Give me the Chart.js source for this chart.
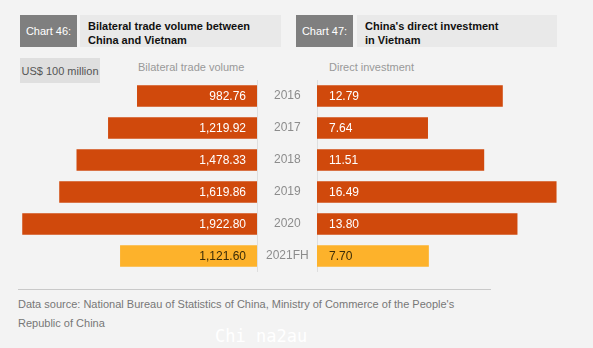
<!DOCTYPE html>
<html>
<head>
<meta charset="utf-8">
<script src="https://cdn.jsdelivr.net/npm/chart.js@4/dist/chart.umd.min.js"></script>
<style>
  html, body { margin: 0; padding: 0; }
  body { width: 593px; height: 348px; background: #f3f3f3; position: relative; overflow: hidden;
         font-family: "Liberation Sans", Arial, Helvetica, sans-serif; }
  .abs { position: absolute; }
  .tag { background: #7f7f7f; color: #fff; font-size: 11px; display: flex; align-items: center; justify-content: center; }
  .ttl { background: #e9e9e9; color: #111; font-weight: bold; font-size: 11px; line-height: 14px; padding: 4px 0 0 8px; box-sizing: border-box; }
  .lbl { color: #999; font-size: 11px; white-space: nowrap; }
  .unit { background: #dfdfdf; color: #555; font-size: 11px; display: flex; align-items: center; justify-content: center; }
  .foot { color: #777; font-size: 11px; line-height: 19px; }
  canvas { position: absolute; }
</style>
</head>
<body>
<div class="abs tag" style="left:20px;top:15px;width:57px;height:32px;">Chart 46:</div>
<div class="abs ttl" style="left:80px;top:15px;width:201px;height:32px;">Bilateral trade volume between<br>China and Vietnam</div>
<div class="abs tag" style="left:296px;top:15px;width:57px;height:32px;">Chart 47:</div>
<div class="abs ttl" style="left:357px;top:15px;width:200px;height:32px;">China's direct investment<br>in Vietnam</div>
<div class="abs unit" style="left:20px;top:58px;width:80px;height:25px;">US$ 100 million</div>
<div class="abs lbl" style="left:138px;top:61px;">Bilateral trade volume</div>
<div class="abs lbl" style="left:329px;top:61px;">Direct investment</div>

<div style="position:absolute;left:0;top:80px;width:317px;height:192px;"><canvas id="left"></canvas></div>
<div style="position:absolute;left:317px;top:80px;width:276px;height:192px;"><canvas id="right"></canvas></div>

<div class="abs" style="left:18px;top:289px;width:473px;height:0;border-top:1px solid #c9c9c9;"></div>
<div class="abs foot" style="left:18px;top:295px;width:500px;">Data source: National Bureau of Statistics of China, Ministry of Commerce of the People's<br>Republic of China</div>
<div class="abs" style="left:215px;top:326px;color:#ffffff;font-family:'DejaVu Sans Mono',monospace;font-size:17px;">Chi na2au</div>

<script>
const years = ["2016", "2017", "2018", "2019", "2020", "2021FH"];
const tradeVolume = [982.76, 1219.92, 1478.33, 1619.86, 1922.80, 1121.60];
const directInvestment = [12.79, 7.64, 11.51, 16.49, 13.80, 7.70];

const ORANGE = "#d0490c";
const YELLOW = "#fdb22b";
const barColors = years.map(y => y.indexOf("FH") >= 0 ? YELLOW : ORANGE);
const labelColors = years.map(y => y.indexOf("FH") >= 0 ? "#3a2c08" : "#ffffff");

function fmt(v) {
  return v.toLocaleString("en-US", { minimumFractionDigits: 2, maximumFractionDigits: 2 });
}

const valueLabels = {
  id: "valueLabels",
  afterDatasetsDraw(chart, args, opts) {
    const ctx = chart.ctx;
    const meta = chart.getDatasetMeta(0);
    const data = chart.data.datasets[0].data;
    ctx.save();
    ctx.font = "12px 'Liberation Sans', Arial, sans-serif";
    ctx.textBaseline = "middle";
    meta.data.forEach((el, i) => {
      ctx.fillStyle = labelColors[i];
      if (opts.side === "left") {
        ctx.textAlign = "right";
        ctx.fillText(fmt(data[i]), el.base - 11, el.y + 1);
      } else {
        ctx.textAlign = "left";
        ctx.fillText(fmt(data[i]), el.base + 12, el.y + 1);
      }
    });
    ctx.restore();
  }
};

Chart.defaults.font.family = "'Liberation Sans', Arial, sans-serif";

function noPad(scale) {
  scale.paddingTop = 0;
  scale.paddingBottom = 0;
}

new Chart(document.getElementById("left"), {
  type: "bar",
  data: {
    labels: years,
    datasets: [{ data: tradeVolume, backgroundColor: barColors, borderWidth: 0,
                 barPercentage: 0.67, categoryPercentage: 1.0 }]
  },
  options: {
    indexAxis: "y",
    responsive: true,
    maintainAspectRatio: false,
    animation: false,
    layout: { padding: 0 },
    plugins: { legend: { display: false }, tooltip: { enabled: false }, valueLabels: { side: "left" } },
    scales: {
      x: { display: false, reverse: true, min: 0, max: 2105 },
      y: {
        position: "right",
        grid: { display: false, drawTicks: false },
        border: { display: true, color: "#dedede", width: 1 },
        ticks: { color: "#8c8c8c", font: { size: 12 }, crossAlign: "center", padding: 9 },
        afterFit(scale) { scale.width = 60; noPad(scale); }
      }
    }
  },
  plugins: [valueLabels]
});

new Chart(document.getElementById("right"), {
  type: "bar",
  data: {
    labels: years,
    datasets: [{ data: directInvestment, backgroundColor: barColors, borderWidth: 0,
                 barPercentage: 0.67, categoryPercentage: 1.0 }]
  },
  options: {
    indexAxis: "y",
    responsive: true,
    maintainAspectRatio: false,
    animation: false,
    layout: { padding: 0 },
    plugins: { legend: { display: false }, tooltip: { enabled: false }, valueLabels: { side: "right" } },
    scales: {
      x: { display: false, min: 0, max: 19 },
      y: {
        position: "left",
        grid: { display: false, drawTicks: false },
        border: { display: true, color: "#dedede", width: 1 },
        ticks: { display: false },
        afterFit(scale) { scale.width = 0; noPad(scale); }
      }
    }
  },
  plugins: [valueLabels]
});
</script>
</body>
</html>
